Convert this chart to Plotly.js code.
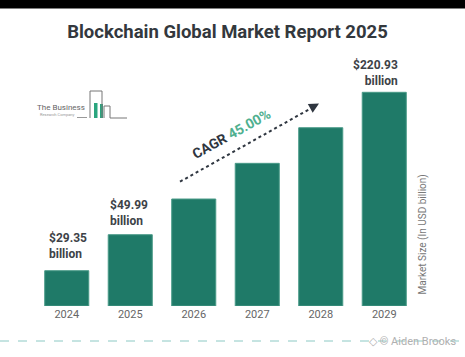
<!DOCTYPE html>
<html>
<head>
<meta charset="utf-8">
<script src="https://cdn.plot.ly/plotly-3.0.1.min.js"></script>
<style>
html,body{margin:0;padding:0;background:#fff;}
#chart{width:465px;height:357px;}
</style>
</head>
<body>
<div id="chart"></div>
<script>
// Data (bar heights as drawn, scaled so 2029 = 220.93)
var years = ['2024', '2025', '2026', '2027', '2028', '2029'];
var drawnHeights = [36.5, 73.7, 110.6, 147.5, 184.3, 220.93];
var labelYearIndex = [0, 1, 5];
var labelTexts = ['$29.35<br>billion', '$49.99<br>billion', '$220.93<br>billion'];
var cagrLabel = 'CAGR';
var cagrValue = '45.00%';

// layout helpers (pixel -> paper)
var W = 465, H = 357, ML = 35, MR = 49, MT = 50, MB = 51;
var PW = W - ML - MR, PH = H - MT - MB;
function px(x) { return (x - ML) / PW; }
function py(y) { return (H - MB - y) / PH; }

var teal = '#1f7a68';

var trace = {
  type: 'bar',
  x: years,
  y: drawnHeights,
  marker: { color: teal, line: { color: '#4a9a88', width: 1 } },
  hoverinfo: 'skip'
};

var annotations = [];
var lblCfg = [
  { xanchor: 'left', xshift: -20, yc: 245.5, align: 'left' },
  { xanchor: 'left', xshift: -22, yc: 212.5, align: 'left' },
  { xanchor: 'right', xshift: 16, yc: 72.5, align: 'right' }
];
for (var i = 0; i < labelYearIndex.length; i++) {
  annotations.push({
    x: labelYearIndex[i], xref: 'x', y: py(lblCfg[i].yc), yref: 'paper',
    text: labelTexts[i], showarrow: false, xanchor: lblCfg[i].xanchor,
    yanchor: 'middle', xshift: lblCfg[i].xshift, align: lblCfg[i].align,
    font: { family: 'Roboto, Arial, sans-serif', size: 12, color: '#3d4247', weight: 'bold' }
  });
}
// CAGR text
annotations.push({
  x: px(231), y: py(134), xref: 'paper', yref: 'paper', showarrow: false,
  xanchor: 'center', yanchor: 'middle',
  text: '<b>' + cagrLabel + ' <span style="color:#4fb08f">' + cagrValue + '</span></b>',
  textangle: -29, font: { family: 'Roboto, Arial, sans-serif', size: 14, color: '#2f3640' }
});
// arrow head
annotations.push({
  x: px(319), y: py(103.5), xref: 'paper', yref: 'paper', text: '', showarrow: true,
  ax: -9, ay: 5, arrowhead: 2, arrowsize: 1, arrowwidth: 2, arrowcolor: '#2f3640'
});
// right axis label
annotations.push({
  x: px(422.5), y: py(234), xref: 'paper', yref: 'paper', showarrow: false,
  xanchor: 'center', yanchor: 'middle',
  text: 'Market Size (In USD billion)', textangle: -90,
  font: { family: 'Roboto, Arial, sans-serif', size: 10, color: '#777' }
});
// logo text
annotations.push({
  x: px(35), y: py(107), xref: 'paper', yref: 'paper', showarrow: false,
  xanchor: 'left', yanchor: 'middle',
  text: 'The Business', font: { family: 'Roboto, Arial, sans-serif', size: 8, color: '#666' }
});
annotations.push({
  x: px(38), y: py(114.5), xref: 'paper', yref: 'paper', showarrow: false,
  xanchor: 'left', yanchor: 'middle',
  text: 'Research Company', font: { family: 'Roboto, sans-serif', size: 4, color: '#999' }
});
// watermark
annotations.push({
  x: px(458), y: py(341), xref: 'paper', yref: 'paper', showarrow: false,
  xanchor: 'right', yanchor: 'middle',
  text: '◇ © Aiden Brooks', font: { family: 'Roboto, Arial, sans-serif', size: 11, color: '#b0b0b0' }
});

function path(pts) {
  var s = '';
  for (var i = 0; i < pts.length; i++) s += (i ? ' L ' : 'M ') + px(pts[i][0]) + ',' + py(pts[i][1]);
  return s;
}

var shapes = [
  // black top band
  { type: 'rect', xref: 'paper', yref: 'paper', x0: px(0), x1: px(465), y0: py(8.5), y1: py(0),
    fillcolor: 'rgb(0,0,0)', opacity: 1, line: { width: 0 }, layer: 'above' },
  // bottom dashed rule
  { type: 'line', xref: 'paper', yref: 'paper', x0: px(0), x1: px(465), y0: py(341), y1: py(341),
    line: { color: '#8cc9c4', width: 1, dash: 'dash' } },
  // CAGR dotted arrow line
  { type: 'line', xref: 'paper', yref: 'paper', x0: px(180), y0: py(181.7), x1: px(316), y1: py(105.5),
    line: { color: '#2f3640', width: 2, dash: 'dot' } },
  // logo buildings
  { type: 'rect', xref: 'paper', yref: 'paper', x0: px(94), x1: px(97.5), y0: py(118), y1: py(103),
    fillcolor: '#2aa57e', line: { width: 0 } },
  { type: 'rect', xref: 'paper', yref: 'paper', x0: px(100), x1: px(103), y0: py(118), y1: py(104),
    fillcolor: '#2aa57e', line: { width: 0 } },
  { type: 'path', xref: 'paper', yref: 'paper',
    path: path([[90, 118], [90, 91], [102, 91], [102, 118]]), line: { color: '#777', width: 1 } },
  { type: 'path', xref: 'paper', yref: 'paper',
    path: path([[104, 118], [104, 106], [110, 106], [110, 118], [127, 118]]), line: { color: '#777', width: 1 } },
  { type: 'line', xref: 'paper', yref: 'paper', x0: px(77), x1: px(87), y0: py(117.5), y1: py(117.5),
    line: { color: '#999', width: 1 } }
];

var layout = {
  width: W, height: H,
  margin: { l: ML, r: MR, t: MT, b: MB, pad: 0 },
  paper_bgcolor: '#fff', plot_bgcolor: '#fff',
  showlegend: false,
  bargap: 0.306,
  title: {
    text: '<b>Blockchain Global Market Report 2025</b>',
    x: 227.5 / W, xref: 'container', xanchor: 'center',
    y: 1 - 32 / H, yref: 'container', yanchor: 'middle',
    font: { family: 'Roboto, Arial, sans-serif', size: 18.5, color: '#33383d' }
  },
  xaxis: {
    type: 'category', range: [-0.5, 5.5], autorange: false,
    showgrid: false, zeroline: false, showline: false,
    ticks: '', ticklen: 0,
    tickfont: { family: 'Roboto, Arial, sans-serif', size: 11, color: '#666' }
  },
  yaxis: {
    range: [0, 256 * 220.93 / 213.7], autorange: false, visible: false, fixedrange: true
  },
  annotations: annotations,
  shapes: shapes
};

Plotly.newPlot('chart', [trace], layout, { displayModeBar: false, staticPlot: true });
</script>
</body>
</html>
